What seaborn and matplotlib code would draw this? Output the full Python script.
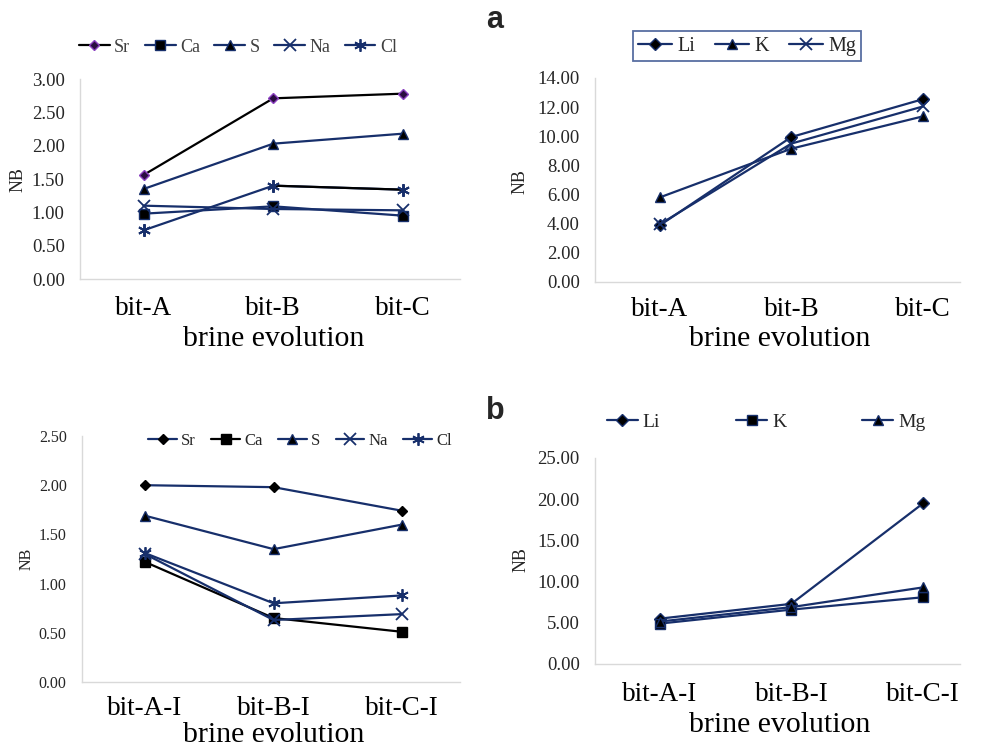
import numpy as np
import pandas as pd
import matplotlib
matplotlib.use("Agg")
import matplotlib.pyplot as plt
import seaborn as sns
from matplotlib.ticker import FormatStrFormatter, MultipleLocator

# ---------------- data ----------------
cats_top = ["bit-A", "bit-B", "bit-C"]
cats_bot = ["bit-A-I", "bit-B-I", "bit-C-I"]

# top-left panel
tl_sr = [1.56, 2.71, 2.78]
tl_ca = [0.98, 1.09, 0.95]
tl_s = [1.35, 2.03, 2.18]
tl_na = [1.10, 1.05, 1.03]
tl_cl = [0.73, 1.40, 1.34]

# top-right panel (a)
tr_li = [3.88, 9.95, 12.55]
tr_k = [5.80, 9.15, 11.37]
tr_mg = [3.95, 9.50, 12.05]

# bottom-left panel
bl_sr = [2.00, 1.98, 1.74]
bl_ca = [1.22, 0.65, 0.51]
bl_s = [1.69, 1.35, 1.60]
bl_na = [1.30, 0.63, 0.69]
bl_cl = [1.31, 0.80, 0.88]

# bottom-right panel (b)
br_li = [5.50, 7.30, 19.50]
br_k = [4.90, 6.60, 8.10]
br_mg = [5.15, 6.90, 9.30]

# ---------------- style ----------------
sns.set_theme(style="white")
plt.rcParams["font.family"] = ["Liberation Serif", "DejaVu Serif"]

NAVY = "#172f6b"
BLACK = "#000000"
SPINE = "#d9d9d9"
TXT = "#262626"
AST = (6, 2, 0)

fig = plt.figure(figsize=(9.9, 7.48), dpi=100)
W, H = 990, 748


def add_ax(l, r, t, b):
    return fig.add_axes([l / W, 1 - b / H, (r - l) / W, (b - t) / H])


ax_tl = add_ax(80, 460, 79, 279)
ax_tr = add_ax(595, 960, 78, 282)
ax_bl = add_ax(82, 460, 436, 682)
ax_br = add_ax(595, 960, 458, 664)


def series(ax, cats, vals, label, color, marker, mfc, mec, ms=6.5, mew=1.0,
           lw=1.6, ls="-", legend=True):
    sns.lineplot(x=cats, y=vals, ax=ax, color=color, marker=marker,
                 markerfacecolor=mfc, markeredgecolor=mec, markersize=ms,
                 markeredgewidth=mew, linewidth=lw, linestyle=ls,
                 label=label if legend else None, sort=False, errorbar=None)


# top-left
series(ax_tl, cats_top, tl_sr, "Sr", BLACK, "D", "#2a0d40", "#8a3fc0", ms=5.5)
series(ax_tl, cats_top, tl_ca, "Ca", NAVY, "s", BLACK, NAVY, ms=6.5)
series(ax_tl, cats_top, tl_s, "S", NAVY, "^", BLACK, NAVY, ms=7)
series(ax_tl, cats_top, tl_na, "Na", NAVY, "x", NAVY, NAVY, ms=8, mew=1.3)
series(ax_tl, cats_top, tl_cl, "Cl", NAVY, AST, NAVY, NAVY, ms=9, mew=1.3)
sns.lineplot(x=cats_top[1:], y=tl_cl[1:], ax=ax_tl, color=BLACK, linewidth=1.6,
             sort=False, errorbar=None)
series(ax_tl, cats_top, tl_cl, None, NAVY, AST, NAVY, NAVY, ms=9, mew=1.3,
       ls="none", legend=False)

# top-right
series(ax_tr, cats_top, tr_li, "Li", NAVY, "D", BLACK, NAVY, ms=6)
series(ax_tr, cats_top, tr_k, "K", NAVY, "^", BLACK, NAVY, ms=7)
series(ax_tr, cats_top, tr_mg, "Mg", NAVY, "x", NAVY, NAVY, ms=8, mew=1.3)

# bottom-left
series(ax_bl, cats_bot, bl_sr, "Sr", NAVY, "D", BLACK, BLACK, ms=5.5)
series(ax_bl, cats_bot, bl_ca, "Ca", BLACK, "s", BLACK, BLACK, ms=6.5)
series(ax_bl, cats_bot, bl_s, "S", NAVY, "^", BLACK, NAVY, ms=7)
series(ax_bl, cats_bot, bl_na, "Na", NAVY, "x", NAVY, NAVY, ms=8, mew=1.3)
series(ax_bl, cats_bot, bl_cl, "Cl", NAVY, AST, NAVY, NAVY, ms=9, mew=1.3)

# bottom-right
series(ax_br, cats_bot, br_li, "Li", NAVY, "D", BLACK, NAVY, ms=6)
series(ax_br, cats_bot, br_k, "K", NAVY, "s", BLACK, NAVY, ms=6.5)
series(ax_br, cats_bot, br_mg, "Mg", NAVY, "^", BLACK, NAVY, ms=7)

# ---------------- axes formatting ----------------
cfg = [
    # ax, ylim, step, xlim, ytick size, ylabel size, xpad, ylab coords, xlab coords
    (ax_tl, (0, 3), 0.5, (-0.49, 2.44), 13.5, 13, 12, (-0.163, 0.495), (0.51, -0.30)),
    (ax_tr, (0, 14), 2, (-0.49, 2.28), 13.5, 13, 11, (-0.205, 0.49), (0.507, -0.28)),
    (ax_bl, (0, 2.5), 0.5, (-0.49, 2.45), 11.5, 11.5, 10, (-0.146, 0.50), (0.508, -0.215)),
    (ax_br, (0, 25), 5, (-0.49, 2.28), 13.5, 13, 13, (-0.203, 0.505), (0.507, -0.295)),
]
for ax, ylim, step, xlim, yts, yls, xpad, ylc, xlc in cfg:
    ax.set_ylim(*ylim)
    ax.set_xlim(*xlim)
    ax.yaxis.set_major_locator(MultipleLocator(step))
    ax.yaxis.set_major_formatter(FormatStrFormatter("%.2f"))
    ax.tick_params(axis="both", length=0)
    ax.tick_params(axis="y", labelsize=yts, labelcolor=TXT, pad=11)
    ax.tick_params(axis="x", labelsize=19.5, labelcolor="black", pad=xpad)
    for s in ("top", "right"):
        ax.spines[s].set_visible(False)
    for s in ("left", "bottom"):
        ax.spines[s].set_color(SPINE)
        ax.spines[s].set_linewidth(1.0)
    ax.set_facecolor("white")
    ax.set_ylabel("NB", fontsize=yls, color=TXT)
    ax.yaxis.label.set_va("center")
    ax.yaxis.set_label_coords(*ylc)
    ax.set_xlabel("brine evolution", fontsize=21.5, color="black")
    ax.xaxis.label.set_va("center")
    ax.xaxis.set_label_coords(*xlc)
    if ax.get_legend() is not None:
        ax.get_legend().remove()

# ---------------- legends ----------------
h, l = ax_tl.get_legend_handles_labels()
fig.legend(h, l, loc="center", bbox_to_anchor=(238 / W, 1 - 47 / H), ncol=5,
           frameon=False, fontsize=13, handlelength=1.7, handletextpad=0.25,
           columnspacing=0.8, labelcolor="#404040")

h, l = ax_tr.get_legend_handles_labels()
leg = fig.legend(h, l, loc="center", bbox_to_anchor=(747 / W, 1 - 46 / H), ncol=3,
                 frameon=True, fancybox=False, fontsize=14.5, handlelength=1.7,
                 handletextpad=0.25, columnspacing=1.0, labelcolor="#262626",
                 borderpad=0.25)
leg.get_frame().set_edgecolor("#2f4a8a")
leg.get_frame().set_linewidth(1.3)

h, l = ax_bl.get_legend_handles_labels()
fig.legend(h, l, loc="center", bbox_to_anchor=(300 / W, 1 - 441 / H), ncol=5,
           frameon=False, fontsize=12, handlelength=1.7, handletextpad=0.25,
           columnspacing=0.95, labelcolor="#262626")

h, l = ax_br.get_legend_handles_labels()
fig.legend(h, l, loc="center", bbox_to_anchor=(766 / W, 1 - 422 / H), ncol=3,
           frameon=False, fontsize=14, handlelength=1.6, handletextpad=0.25,
           columnspacing=3.9, labelcolor="#262626")

# panel letters
fig.text(486 / W, 1 - 20 / H, "a", fontsize=22, fontweight="bold",
         family=["Liberation Sans", "DejaVu Sans"], ha="left", va="center")
fig.text(486 / W, 1 - 411 / H, "b", fontsize=22, fontweight="bold",
         family=["Liberation Sans", "DejaVu Sans"], ha="left", va="center")

fig.savefig("out.png", dpi=100, facecolor="white")
